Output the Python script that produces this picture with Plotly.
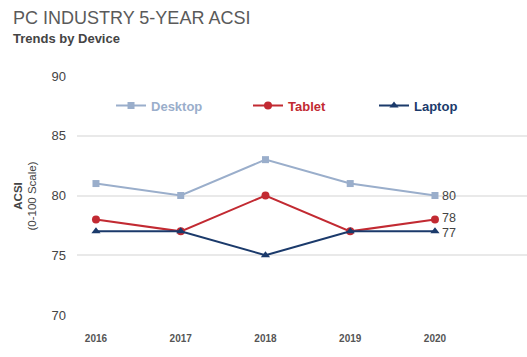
import plotly.graph_objects as go

years = [2016, 2017, 2018, 2019, 2020]
desktop = [81, 80, 83, 81, 80]
tablet = [78, 77, 80, 77, 78]
laptop = [77, 77, 75, 77, 77]
y_ticks = [70, 75, 80, 85, 90]

series = [
    ("<b>Desktop</b>", desktop, "#9aaecb", "square", 7, "legend", 0),
    ("<b>Tablet</b>", tablet, "#c22a32", "circle", 8, "legend2", 1.5),
    ("<b>Laptop</b>", laptop, "#1b3a6b", "triangle-up", 8, "legend3", -2),
]

fig = go.Figure()
for name, vals, color, sym, size, lg, ys in series:
    fig.add_trace(go.Scatter(
        x=years, y=vals, name=name, mode="lines+markers",
        line=dict(color=color, width=2),
        marker=dict(symbol=sym, size=size, color=color),
        legend=lg, cliponaxis=False, showlegend=True,
    ))
    fig.add_annotation(x=years[-1], y=vals[-1], text=str(vals[-1]), xref="x", yref="y",
                       xanchor="left", yanchor="middle", xshift=6, yshift=ys,
                       showarrow=False, borderpad=0,
                       font=dict(size=12.5, color="#444444", family="Liberation Sans"))

leg_common = dict(orientation="h", bgcolor="rgba(0,0,0,0)", yanchor="middle",
                  xanchor="left", itemwidth=30, visible=True)
fig.update_layout(
    width=527, height=357, showlegend=True,
    margin=dict(l=77, r=0, t=76, b=42, autoexpand=False),
    paper_bgcolor="white", plot_bgcolor="white",
    font=dict(family="Liberation Sans", color="#444444"),
    legend=dict(x=0.0756, y=0.876, font=dict(size=13, color="#9aaecb", family="Liberation Sans"), **leg_common),
    legend2=dict(x=0.38, y=0.876, font=dict(size=13, color="#c22a32", family="Liberation Sans"), **leg_common),
    legend3=dict(x=0.66, y=0.876, font=dict(size=13, color="#1b3a6b", family="Liberation Sans"), **leg_common),
    xaxis=dict(range=[2015.776, 2021.086], tickvals=years, ticktext=["<b>%d</b>" % y for y in years],
               showgrid=False, zeroline=False, showline=False, automargin=False,
               tickfont=dict(size=10, color="#555555", family="Liberation Sans"),
               ticks="", ticklabelstandoff=16),
    yaxis=dict(range=[70, 90], tickvals=y_ticks, showgrid=True, gridcolor="#e9e9e9",
               gridwidth=2, zeroline=False, showline=False, ticks="", automargin=False,
               tickfont=dict(size=13, color="#444444", family="Liberation Sans"),
               ticklabelstandoff=10),
)

fig.add_annotation(text="PC INDUSTRY 5-YEAR ACSI", xref="paper", yref="paper",
                   x=0, y=1, xshift=-77+11, yshift=76-6, xanchor="left", yanchor="top",
                   showarrow=False, font=dict(size=18, color="#5a5a5a", family="Liberation Sans"))
fig.add_annotation(text="<b>Trends by Device</b>", xref="paper", yref="paper",
                   x=0, y=1, xshift=-77+11, yshift=76-29, xanchor="left", yanchor="top",
                   showarrow=False, font=dict(size=13, color="#444444", family="Liberation Sans"))
fig.add_annotation(text="<b>ACSI</b><br>(0-100 Scale)", xref="paper", yref="paper",
                   x=0, y=0.5, xshift=-77+25, yshift=-1, textangle=-90,
                   xanchor="center", yanchor="middle",
                   showarrow=False, font=dict(size=11.5, color="#444444", family="Liberation Sans"))

fig.write_html("out.html", config={"displayModeBar": False},
               post_script="document.body.style.margin='0px';")
